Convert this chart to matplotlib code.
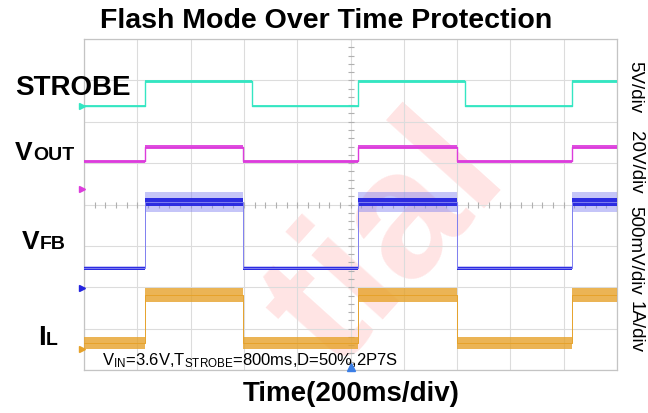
import matplotlib
matplotlib.use("Agg")
import matplotlib.pyplot as plt
import numpy as np

plt.rcParams['font.family'] = ['Liberation Sans', 'DejaVu Sans']
plt.rcParams['mathtext.fontset'] = 'custom'
plt.rcParams['mathtext.rm'] = 'Liberation Sans'
plt.rcParams['mathtext.it'] = 'Liberation Sans'

# ---- data (time in ms, levels in screen divisions) ----
strobe_edges = [0, 230, 630, 1030, 1430, 1830, 2000]
output_edges = [0, 230, 597, 1030, 1400, 1830, 2000]
states = [0, 1, 0, 1, 0, 1]

strobe_levels = (6.38, 6.98)
vout_levels = (5.05, 5.39)
vfb_levels = (2.46, 4.06)
il_levels = (0.65, 1.81)

strobe_noise = (0.025, 0.035)
vout_noise = (0.035, 0.04)
vfb_noise = (0.05, 0.25)
vfb_core = (0.035, 0.09)
il_noise = (0.15, 0.17)

marker_levels = [6.38, 4.37, 1.98, 0.51]
scale_labels = ["5V/div", "20V/div", "500mV/div", "1A/div"]
scale_pos = [87.5, 162, 250, 327.5]

c_strobe = '#34e6c2'
c_vout = '#dc3cdc'
c_vfb = '#2424e0'
c_vfb_band = '#7f7ff0'
c_il = '#e6a22a'

fig = plt.figure(figsize=(6.48, 4.14), dpi=100)
fig.patch.set_facecolor('white')
ax = fig.add_axes([84/648, 1-371/414, (617-84)/648, (371-40)/414])
ax.set_facecolor((1, 1, 1, 0.68))
ax.set_xlim(0, 2000)
ax.set_ylim(0, 8)
ax.set_xticks(np.arange(0, 2001, 200))
ax.set_yticks(np.arange(0, 8.01, 1))
ax.tick_params(length=0, labelbottom=False, labelleft=False)
ax.grid(True, color='#dcdcdc', lw=0.8)
for s in ax.spines.values():
    s.set_color('#c4c4c4')
    s.set_linewidth(0.9)

# centre-line minor ticks
ax.plot(np.full(41, 1000), np.arange(0, 8.01, 0.2), ls='none', marker='_',
        ms=4, color='#b0b0b0', mew=0.8)
ax.plot(np.arange(0, 2001, 40), np.full(51, 4.0), ls='none', marker='|',
        ms=4, color='#b0b0b0', mew=0.8)


def trace(edges, levels, noise, color, lw, band_color=None, band_alpha=0.9):
    y = np.array([levels[s] for s in states] + [levels[states[-1]]])
    h = np.array([noise[s] for s in states] + [noise[states[-1]]])
    ax.fill_between(edges, y - h, y + h, step='post',
                    color=band_color or color, alpha=band_alpha, lw=0, zorder=3)
    if lw > 0:
        ax.step(edges, y, where='post', color=color, lw=lw, zorder=4)


trace(strobe_edges, strobe_levels, strobe_noise, c_strobe, 1.0)
trace(output_edges, vout_levels, vout_noise, c_vout, 1.0)
trace(output_edges, vfb_levels, vfb_noise, c_vfb_band, 0.7, band_alpha=0.45)
trace(output_edges, vfb_levels, vfb_core, c_vfb, 0.0, band_alpha=0.95)
trace(output_edges, il_levels, il_noise, c_il, 0.7, band_alpha=0.8)

# channel markers
for lvl, col in zip(marker_levels, [c_strobe, c_vout, c_vfb, c_il]):
    ax.plot([-6], [lvl], marker='>', ms=5, color=col, clip_on=False, zorder=6)
ax.plot([1000], [0.07], marker='^', ms=6, color='#3a7ee6', clip_on=False, zorder=6)

# watermark
fig.text(335/648, 1-372/414, "tial", fontsize=130, fontweight='bold',
         color='#ff5a5a', alpha=0.5, rotation=48, rotation_mode='anchor',
         ha='left', va='baseline', zorder=-1)

# titles
fig.text(326/648, 1-28/414, "Flash Mode Over Time Protection", fontsize=20.5,
         fontweight='bold', ha='center', va='baseline')
fig.text(351/648, 1-401/414, "Time(200ms/div)", fontsize=20,
         fontweight='bold', ha='center', va='baseline')

# channel labels
fig.text(15/648, 1-95/414, "STROBE", fontsize=20, fontweight='bold', va='baseline')
fig.text(15/648, 1-160/414, "V", fontsize=19, fontweight='bold', va='baseline')
fig.text(33/648, 1-160/414, "OUT", fontsize=14, fontweight='bold', va='baseline')
fig.text(22/648, 1-249/414, "V", fontsize=19, fontweight='bold', va='baseline')
fig.text(40/648, 1-249/414, "FB", fontsize=14, fontweight='bold', va='baseline')
fig.text(38/648, 1-345/414, "I", fontsize=20, fontweight='bold', va='baseline')
fig.text(46/648, 1-345/414, "L", fontsize=14, fontweight='bold', va='baseline')

# test condition
fig.text(102/648, 1-365/414,
         r"V$_{\mathrm{IN}}$=3.6V,T$_{\mathrm{STROBE}}$=800ms,D=50%,2P7S",
         fontsize=12, va='baseline', zorder=5)

# scale labels (rotated)
for lab, yc in zip(scale_labels, scale_pos):
    fig.text(635/648, 1-yc/414, lab, fontsize=13.5, rotation=-90,
             ha='center', va='center')

fig.savefig("out.png", dpi=100)
